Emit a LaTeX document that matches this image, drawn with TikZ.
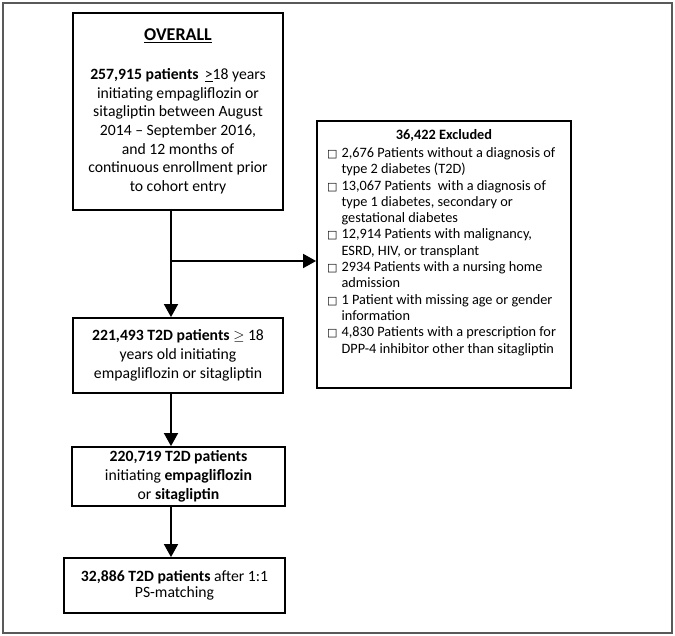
\documentclass[tikz,border=0pt]{standalone}
\usepackage{fontspec}
\setmainfont{Carlito}
\newfontfamily\symfont{DejaVu Sans}
\usetikzlibrary{arrows.meta}
\newcommand{\cbx}{{\symfont\fontsize{11}{11}\selectfont □}}
\begin{document}
\begin{tikzpicture}[x=1pt,y=-1pt,
  box/.style={draw=black, line width=1.8pt, inner sep=0pt, align=center,
    font=\fontsize{15.7}{18.7}\selectfont},
  arr/.style={line width=1.7pt, -{Triangle[width=14pt,length=13pt]}},
  ]
\useasboundingbox (0,0) rectangle (675,636);
\draw[line width=1.6pt, black!65] (3,3) rectangle (672,633);

\coordinate (col) at (171,0);

\node[box, minimum width=210pt, minimum height=197pt] (ov) at (178,111.5)
  {{\fontsize{18}{18.7}\selectfont\textbf{\underline{OVERALL}}}\\[20pt]
   \textbf{257,915 patients} \,\underline{>}18 years\\
   initiating empagliflozin or\\
   sitagliptin between August\\
   2014 -- September 2016,\\
   and 12 months of\\
   continuous enrollment prior\\
   to cohort entry};

\node[box, minimum width=210pt, minimum height=75pt] (b2) at (178,355.5)
  {\textbf{221,493 T2D patients} $\geq$ 18\\
   years old initiating\\
   empagliflozin or sitagliptin};

\node[box, minimum width=213pt, minimum height=59pt] (b3) at (178.5,476.5)
  {\textbf{220,719 T2D patients}\\
   initiating \textbf{empagliflozin}\\
   or \textbf{sitagliptin}};

\node[box, minimum width=221pt, minimum height=55pt,
  font=\fontsize{15.7}{16.5}\selectfont] (b4) at (174.5,585.5)
  {\textbf{32,886 T2D patients} after 1:1\\
   PS-matching};

\node[draw=black, line width=1.8pt, minimum width=254pt, minimum height=267pt] (ex) at (444,254.5) {};
\node[font=\fontsize{14.3}{16.3}\selectfont\bfseries, anchor=base] (ext) at (444,140) {36,422 Excluded};
\node[font=\fontsize{14.3}{16.3}\selectfont, anchor=base west, inner sep=0pt] (exl) at (327,157.5)
  {\begin{tabular}[t]{@{}l@{\hspace{4pt}}l@{}}
   \cbx & 2,676 Patients without a diagnosis of\\
        & type 2 diabetes (T2D)\\
   \cbx & 13,067 Patients \ with a diagnosis of\\
        & type 1 diabetes, secondary or\\
        & gestational diabetes\\
   \cbx & 12,914 Patients with malignancy,\\
        & ESRD, HIV, or transplant\\
   \cbx & 2934 Patients with a nursing home\\
        & admission\\
   \cbx & 1 Patient with missing age or gender\\
        & information\\
   \cbx & 4,830 Patients with a prescription for\\
        & DPP-4 inhibitor other than sitagliptin
   \end{tabular}};

\coordinate (br) at (171,261);
\draw[arr] (ov.south -| col) -- (b2.north -| col);
\draw[arr] (br) -- (br -| ex.west);
\draw[arr] (b2.south -| col) -- (b3.north -| col);
\draw[arr] (b3.south -| col) -- (b4.north -| col);
\end{tikzpicture}
\end{document}
